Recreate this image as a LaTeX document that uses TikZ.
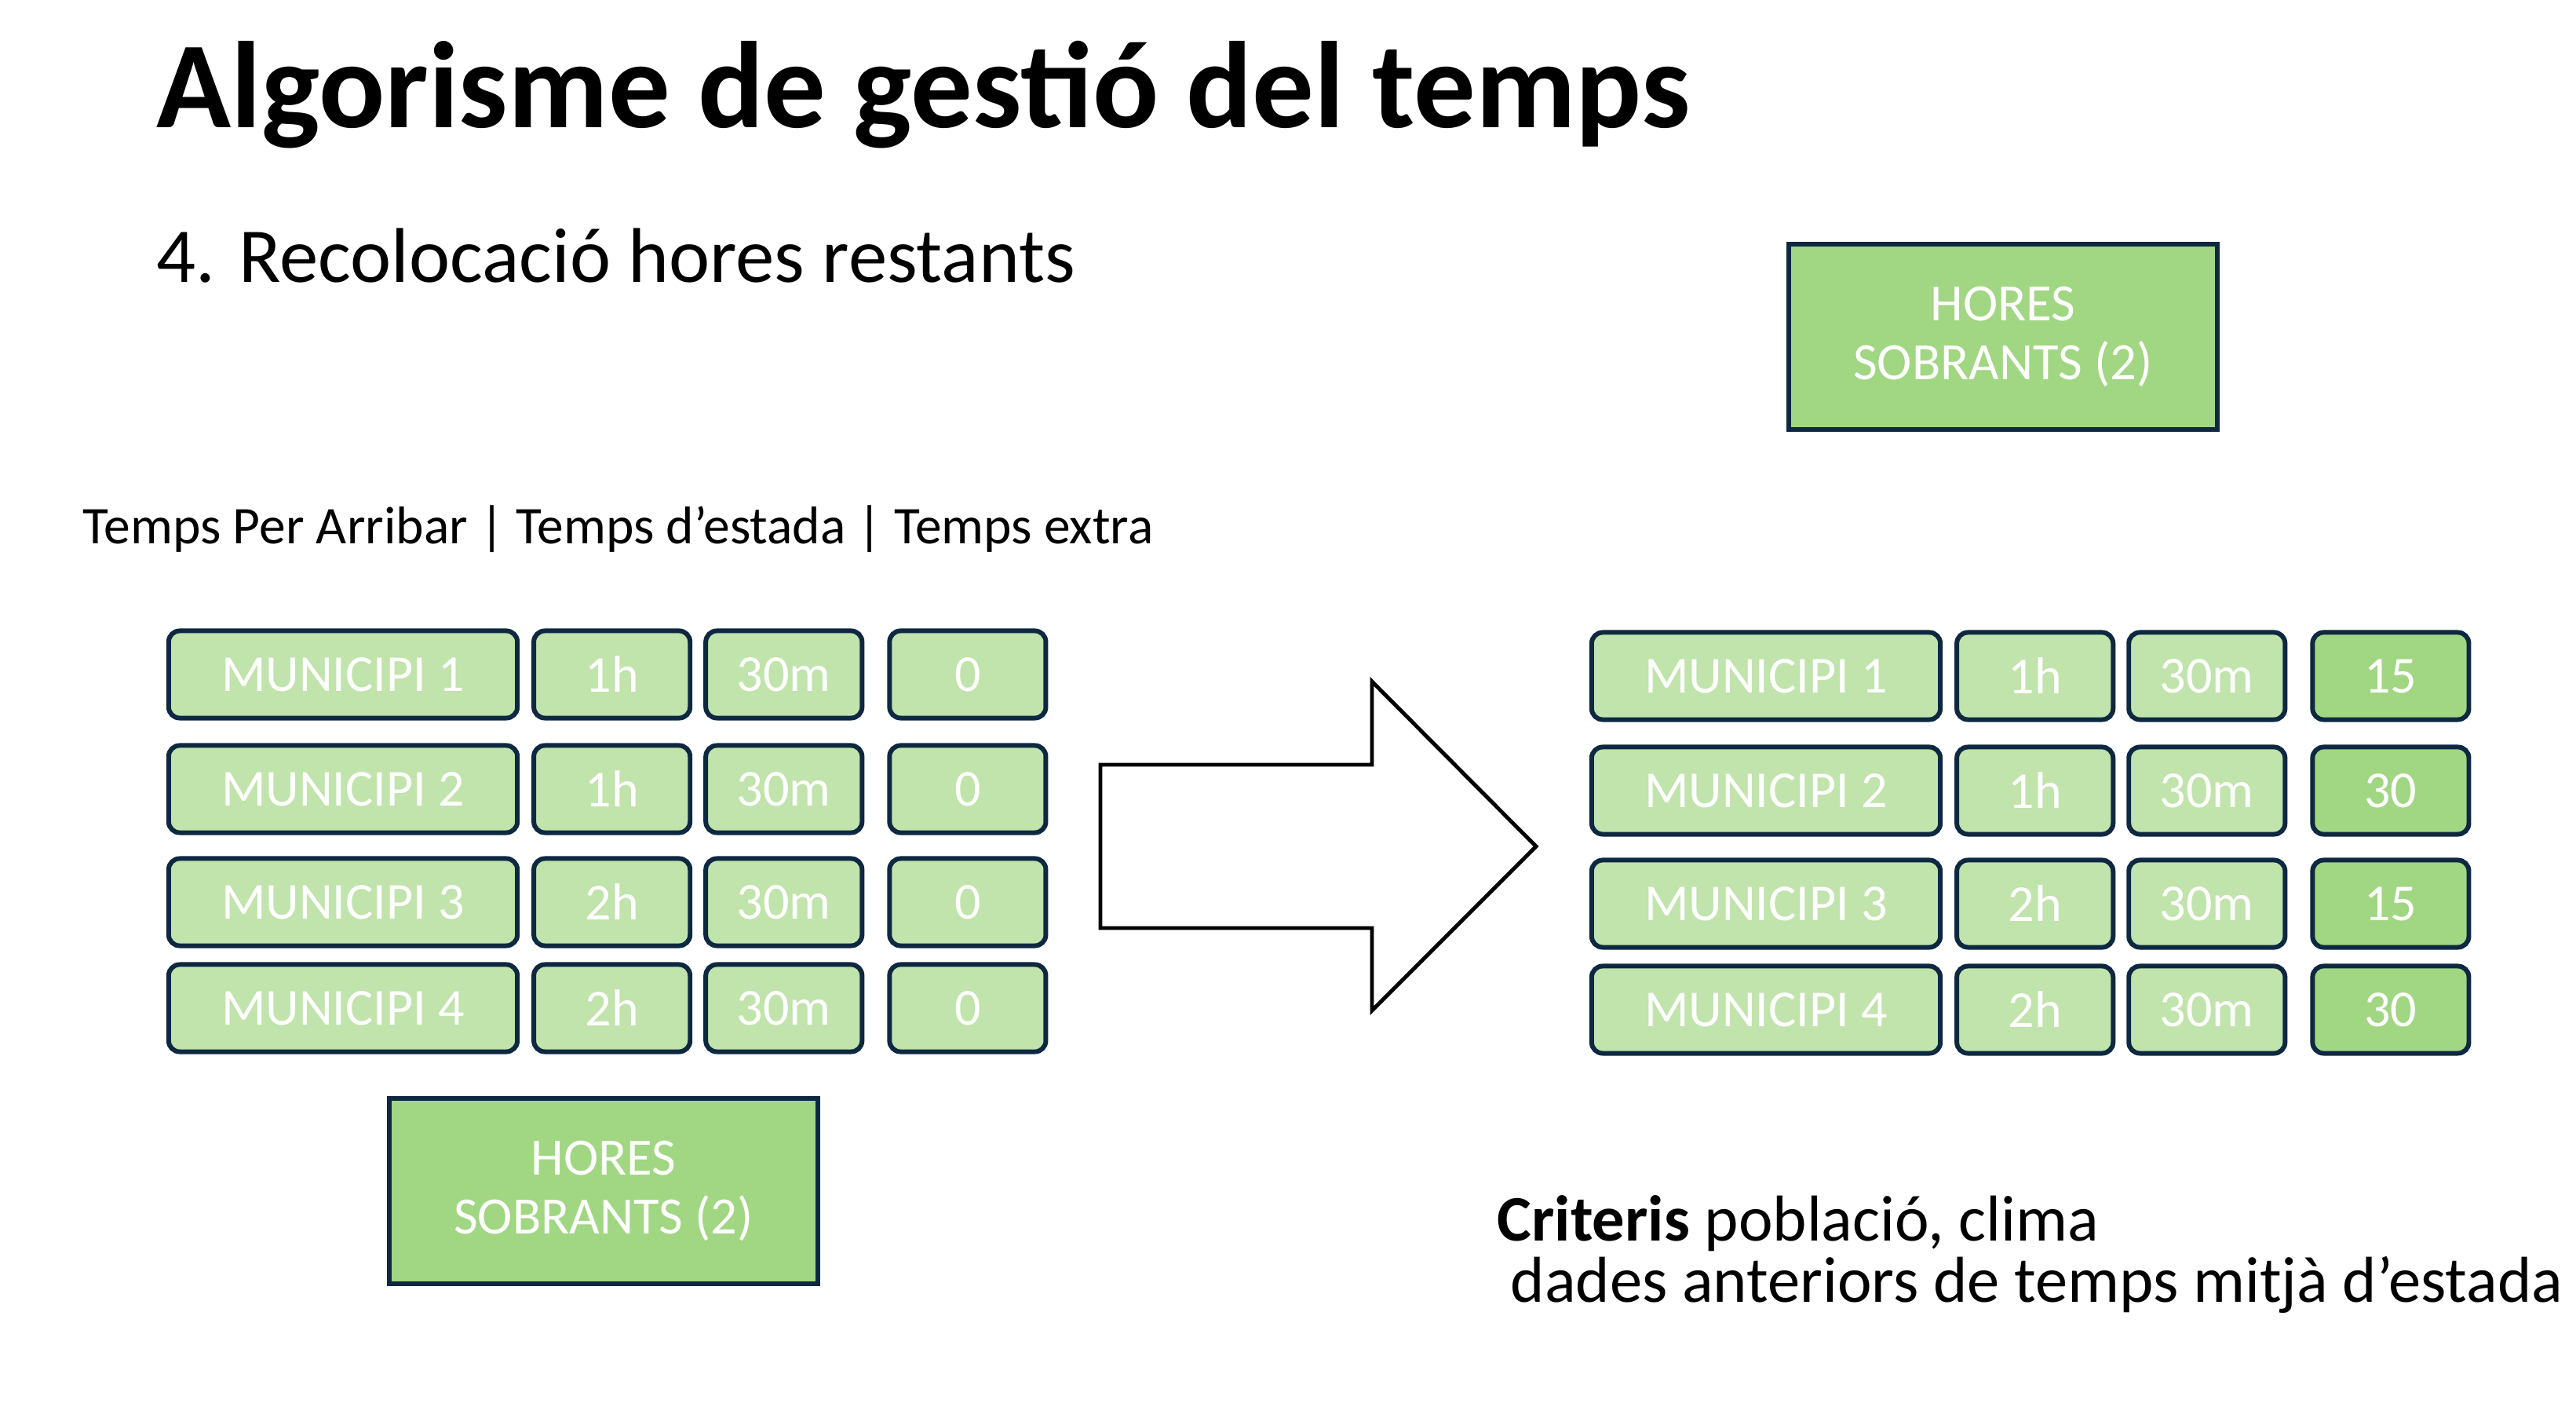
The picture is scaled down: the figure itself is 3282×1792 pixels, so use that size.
\documentclass[tikz,border=0pt]{standalone}
\usepackage{fontspec}
\setmainfont{Carlito}
\usetikzlibrary{positioning}
\definecolor{cellgreen}{HTML}{C1E3AC}
\definecolor{extragreen}{HTML}{A1D683}
\definecolor{cellline}{HTML}{0E2841}
\tikzset{
    cell/.style={draw=cellline, line width=1.7pt, fill=cellgreen, rounded corners=0.14cm,
        text=white, font=\fontsize{18.8}{22}\selectfont, minimum height=1.11cm, inner sep=0pt},
    namecell/.style={cell, minimum width=4.44cm},
    timecell/.style={cell, minimum width=1.99cm},
    extracell/.style={timecell, fill=extragreen},
    sparebox/.style={draw=cellline, line width=1.7pt, fill=extragreen, text=white,
        minimum width=5.46cm, minimum height=2.36cm, align=center,
        font=\fontsize{19}{21.5}\selectfont},
    label/.style={anchor=base west, inner sep=0pt}
}

\begin{document}
\begin{tikzpicture}[x=0.01cm, y=-0.01cm]
    \useasboundingbox (0,0) rectangle (3282,1792);
    % Headings
    \node[label, font=\fontsize{44.6}{50}\selectfont\bfseries] (title) at (199,163) {Algorisme de gestió del temps};
    \node[label, font=\fontsize{28.1}{32}\selectfont] (subtitle) at (199,360) {4. Recolocació hores restants};
    \node[label, font=\fontsize{19.2}{22}\selectfont] (header) at (105,693) {Temps Per Arribar | Temps d’estada | Temps extra};
    % Tables before and after
    \foreach \i/\yy/\h/\e in {1/859/1h/15, 2/1005/1h/30, 3/1149/2h/15, 4/1284/2h/30} {
        \node[namecell] (lm\i) at (437,\yy) {MUNICIPI \i};
        \node[timecell, right=0.15cm of lm\i] (lh\i) {\h};
        \node[timecell, right=0.14cm of lh\i] (ls\i) {30m};
        \node[timecell, right=0.29cm of ls\i] (le\i) {0};
        \node[namecell] (rm\i) at (2250,\yy+2) {MUNICIPI \i};
        \node[timecell, right=0.15cm of rm\i] (rh\i) {\h};
        \node[timecell, right=0.14cm of rh\i] (rs\i) {30m};
        \node[extracell, right=0.29cm of rs\i] (re\i) {\e};
    }
    % Spare hours
    \node[sparebox] (spareleft) at (769,1517) {HORES\\SOBRANTS (2)};
    \node[sparebox] (spareright) at (2552,429) {HORES\\SOBRANTS (2)};
    % Big arrow
    \draw[line width=1.4pt, line join=miter] (1402,974) -- (1748,974) -- (1748,868) -- (1957,1078)
        -- (1748,1287) -- (1748,1182) -- (1402,1182) -- cycle;
    % Criteria
    \node[label, font=\fontsize{23.5}{27}\selectfont] (criteris) at (1907,1580) {\textbf{Criteris} població, clima};
    \node[label, font=\fontsize{23.5}{27}\selectfont] (dades) at (1924,1658) {dades anteriors de temps mitjà d’estada};
\end{tikzpicture}
\end{document}
